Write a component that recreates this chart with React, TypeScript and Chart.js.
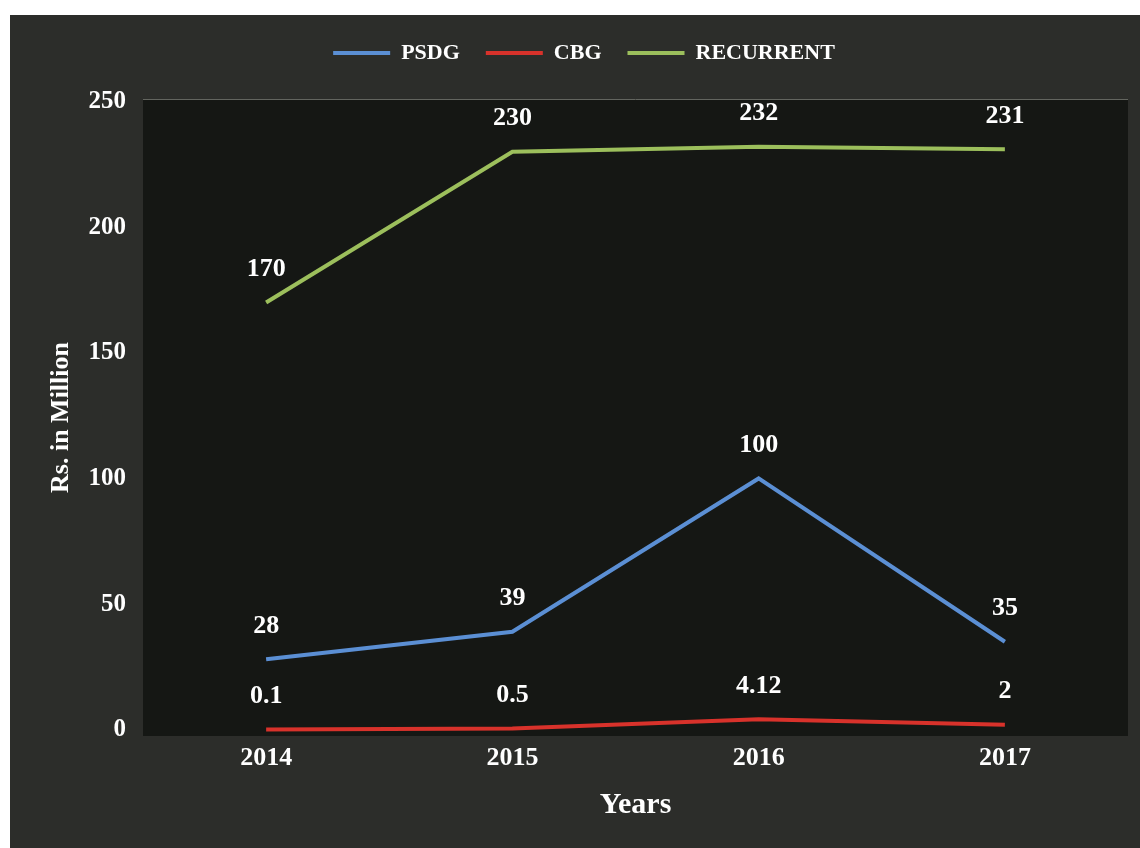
import React, { useEffect, useRef } from 'react';
import { Chart, registerables } from 'chart.js';

Chart.register(...registerables);

const years = ['2014', '2015', '2016', '2017'];
const psdg = [28, 39, 100, 35];
const cbg = [0.1, 0.5, 4.12, 2];
const recurrent = [170, 230, 232, 231];
const yTickValues = [0, 50, 100, 150, 200, 250];

const seriesNames = ['PSDG', 'CBG', 'RECURRENT'];
const seriesColors = ['#5b8fd4', '#d8322b', '#9cbf5c'];

const FONT = "'Liberation Serif', 'Times New Roman', serif";

const backgroundPlugin = {
  id: 'bgPlugin',
  beforeDraw(chart: any) {
    const { ctx, chartArea: a, width, height } = chart;
    ctx.save();
    ctx.fillStyle = '#2c2d2a';
    ctx.fillRect(0, 0, width, height);
    ctx.fillStyle = '#151714';
    ctx.fillRect(a.left, a.top, a.right - a.left, a.bottom - a.top);
    ctx.strokeStyle = '#63655f';
    ctx.lineWidth = 1;
    ctx.beginPath();
    ctx.moveTo(a.left, a.top + 0.5);
    ctx.lineTo(a.right, a.top + 0.5);
    ctx.stroke();
    ctx.restore();
  },
};

const valueLabelPlugin = {
  id: 'valueLabels',
  afterDatasetsDraw(chart: any) {
    const { ctx } = chart;
    ctx.save();
    ctx.font = `bold 26px ${FONT}`;
    ctx.fillStyle = '#ffffff';
    ctx.textAlign = 'center';
    ctx.textBaseline = 'middle';
    chart.data.datasets.forEach((ds: any, i: number) => {
      const meta = chart.getDatasetMeta(i);
      meta.data.forEach((pt: any, j: number) => {
        ctx.fillText(String(ds.data[j]), pt.x, pt.y - 33);
      });
    });
    ctx.restore();
  },
};

export default function App() {
  const canvasRef = useRef<HTMLCanvasElement | null>(null);

  useEffect(() => {
    if (!canvasRef.current) return;
    const seriesData = [psdg, cbg, recurrent];
    const chart = new Chart(canvasRef.current, {
      type: 'line',
      data: {
        labels: years,
        datasets: seriesNames.map((name, i) => ({
          label: name,
          data: seriesData[i],
          borderColor: seriesColors[i],
          backgroundColor: seriesColors[i],
          borderWidth: 4,
          pointRadius: 0,
          tension: 0,
        })),
      },
      options: {
        responsive: false,
        animation: false,
        maintainAspectRatio: false,
        layout: { padding: { top: 1, left: 30, right: 12, bottom: 0 } },
        plugins: {
          legend: {
            position: 'top',
            labels: {
              color: '#ffffff',
              font: { family: FONT, size: 22, weight: 'bold' },
              boxWidth: 57,
              boxHeight: 4,
              padding: 26,
              generateLabels: (c: any) =>
                (Chart.defaults.plugins.legend.labels.generateLabels as any)(c).map((l: any) => ({
                  ...l,
                  fillStyle: l.strokeStyle,
                  lineWidth: 0,
                })),
            },
          },
          subtitle: {
            display: true,
            text: '',
            position: 'top',
            weight: 500,
            font: { size: 10, lineHeight: 1.2 },
            padding: { top: 13, bottom: 0 },
          } as any,
          tooltip: { enabled: false },
        },
        scales: {
          x: {
            offset: true,
            grid: { display: false, drawTicks: false },
            border: { display: false },
            ticks: {
              color: '#ffffff',
              font: { family: FONT, size: 26, weight: 'bold' },
              padding: 7,
            },
            title: {
              display: true,
              text: 'Years',
              color: '#ffffff',
              font: { family: FONT, size: 30, weight: 'bold' },
              padding: { top: 0, bottom: 25 },
            },
            afterFit: (scale: any) => {
              scale.height = 112;
            },
          },
          y: {
            min: -2.5,
            max: 251,
            grid: { display: false, drawTicks: false },
            border: { display: false },
            ticks: {
              color: '#ffffff',
              font: { family: FONT, size: 25, weight: 'bold' },
              padding: 17,
            },
            afterBuildTicks: (scale: any) => {
              scale.ticks = yTickValues.map((v) => ({ value: v }));
            },
            title: {
              display: true,
              text: 'Rs. in Million',
              color: '#ffffff',
              font: { family: FONT, size: 26, weight: 'bold' },
              padding: { top: 6, bottom: 0 },
            },
            afterFit: (scale: any) => {
              scale.width = 103;
            },
          },
        },
      },
      plugins: [backgroundPlugin, valueLabelPlugin],
    });
    return () => chart.destroy();
  }, []);

  return (
    <div style={{ position: 'absolute', left: 10, top: 15, width: 1130, height: 833 }}>
      <canvas ref={canvasRef} width={1130} height={833} style={{ width: 1130, height: 833, display: 'block' }} />
    </div>
  );
}
